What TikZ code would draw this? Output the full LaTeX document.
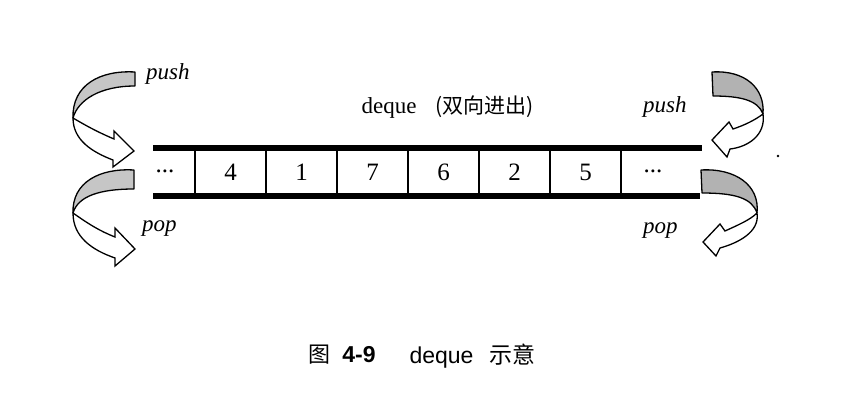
\documentclass[tikz,border=0pt]{standalone}
\usepackage{fontspec}
\setmainfont{Liberation Serif}
\newfontfamily\cjk{Noto Sans CJK SC}
\newfontfamily\capsans{Liberation Sans}
\begin{document}
\begin{tikzpicture}[x=1pt,y=-1pt,
  lbl/.style={inner sep=0pt,font=\fontsize{23}{23}\selectfont},
  celltxt/.style={inner sep=0pt,font=\fontsize{25}{25}\selectfont},
  bar/.style={line width=6pt},
  divider/.style={line width=1.1pt},
  band/.style={draw=black,line width=1.3pt,line join=round,fill=gray!45},
  bandR/.style={draw=black,line width=1.3pt,line join=round,fill=gray!60},
  shaft/.style={draw=black,line width=1.3pt,line join=miter,fill=white}]
\useasboundingbox (0,0) rectangle (853,415);
% bars
\draw[bar] (153,147.5) -- (702,147.5);
\draw[bar] (153,196) -- (700,196);
% dividers
\foreach \x in {195,266,337,408,479,550,621}
  \draw[divider] (\x,150) -- (\x,193);
% cell contents
\node[celltxt] (c0) at (165,171) {...};
\node[celltxt] (c1) at (230.5,172.5) {4};
\node[celltxt] (c2) at (301.5,172.5) {1};
\node[celltxt] (c3) at (372.5,172.5) {7};
\node[celltxt] (c4) at (443.5,172.5) {6};
\node[celltxt] (c5) at (514.5,172.5) {2};
\node[celltxt] (c6) at (585.5,172.5) {5};
\node[celltxt] (c7) at (653,171) {...};
% title
\node[lbl,anchor=base] (t1) at (389,113) {deque};
\node[inner sep=0pt,anchor=base west,font=\cjk\fontsize{21}{21}\selectfont] (t2) at (435,113) {(双向进出)};
% labels
\node[lbl,anchor=base west] (push1) at (146,79) {\itshape push};
\node[lbl,anchor=base west] (pop1) at (142,231) {\itshape pop};
\node[lbl,anchor=base west] (push2) at (643,112) {\itshape push};
\node[lbl,anchor=base west] (pop2) at (643,233) {\itshape pop};
% left push arrow
\draw[band] (135,72) .. controls (100,70) and (72,85) .. (73,118)
  .. controls (78,100) and (100,86) .. (135,86) -- cycle;
\draw[shaft] (73,118) .. controls (90,128) and (100,133) .. (114,139)
  -- (114,131) -- (134,151) -- (113,167) -- (113,160)
  .. controls (92,152) and (73,140) .. (73,118) -- cycle;
% left pop arrow
\draw[band] (134,170) .. controls (100,168) and (72,182) .. (73,213)
  .. controls (78,196) and (100,189) .. (134,189) -- cycle;
\draw[shaft] (73,213) .. controls (90,225) and (100,231) .. (115,237)
  -- (115,228) -- (135,249) -- (115,266) -- (115,258)
  .. controls (92,250) and (73,237) .. (73,213) -- cycle;
% right push arrow
\draw[bandR] (712,72) .. controls (745,70) and (765,88) .. (763,114)
  .. controls (758,100) and (740,96) .. (713,96) -- cycle;
\draw[shaft] (763,114) .. controls (755,120) and (745,125) .. (733,129)
  -- (729,122) -- (712,140) -- (727,157) -- (730,149)
  .. controls (748,147) and (766,135) .. (763,114) -- cycle;
% right pop arrow
\draw[bandR] (701,170) .. controls (735,168) and (760,185) .. (757,213)
  .. controls (752,198) and (735,193) .. (702,193) -- cycle;
\draw[shaft] (757,213) .. controls (750,220) and (738,225) .. (725,231)
  -- (720,224) -- (703,242) -- (716,256) -- (720,248)
  .. controls (738,243) and (760,232) .. (757,213) -- cycle;
% stray dot
\fill (778,156) circle (1.3);
% caption
\node[inner sep=0pt,font=\cjk\fontsize{22}{22}\selectfont] (cap1) at (319,355) {图};
\node[inner sep=0pt,font=\capsans\bfseries\fontsize{23}{23}\selectfont] (cap2) at (359,355) {4-9};
\node[inner sep=0pt,anchor=base,font=\capsans\fontsize{23}{23}\selectfont] (cap3) at (441.5,363) {deque};
\node[inner sep=0pt,font=\cjk\fontsize{23}{23}\selectfont] (cap4) at (512,355) {示意};
\end{tikzpicture}
\end{document}
